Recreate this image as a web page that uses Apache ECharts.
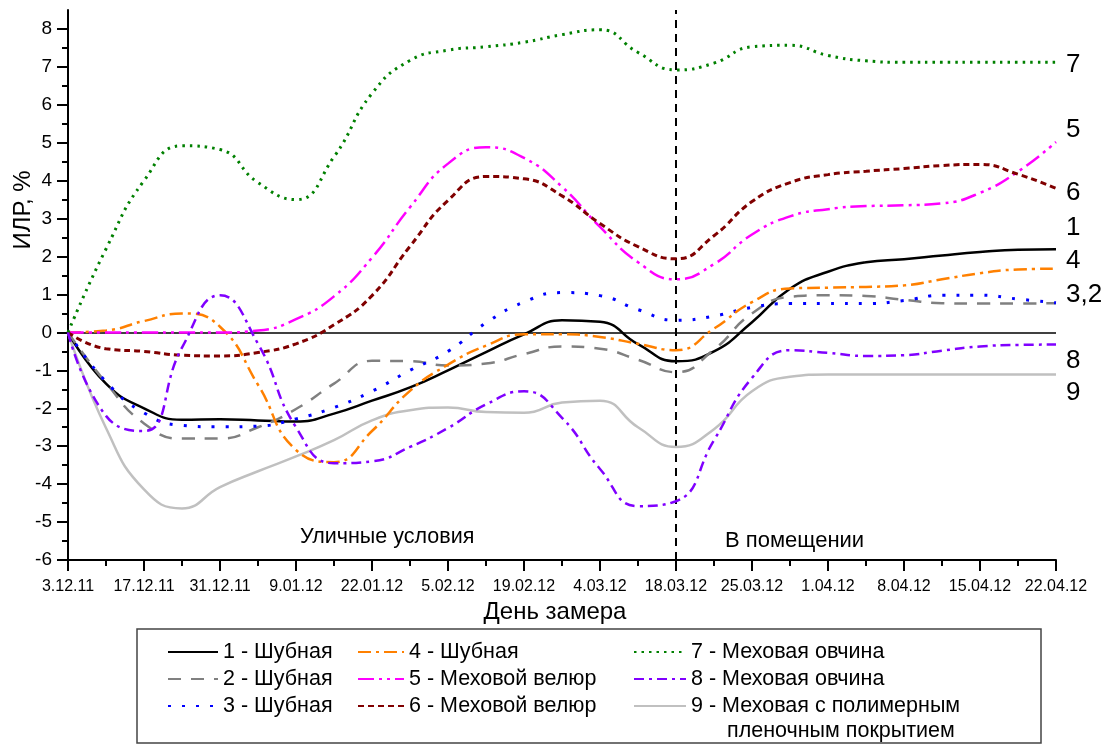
<!DOCTYPE html>
<html><head><meta charset="utf-8">
<script src="https://cdn.jsdelivr.net/npm/echarts@6/dist/echarts.min.js"></script>
<style>html,body{margin:0;padding:0;background:#fff}#c{width:1109px;height:745px}</style>
</head><body><div id="c"></div>
<script>
// ---- data ----
const dateLabels = ['3.12.11','17.12.11','31.12.11','9.01.12','22.01.12','5.02.12','19.02.12','4.03.12','18.03.12','25.03.12','1.04.12','8.04.12','15.04.12','22.04.12'];
const xPos = [0,0.5,1,1.5,2,2.5,3,3.5,4,4.5,5,5.5,6,6.5,7,7.5,8,8.5,9,9.5,10,10.5,11,11.5,12,12.5,13];
const seriesNames = ['1 - Шубная','2 - Шубная','3 - Шубная','4 - Шубная','5 - Меховой велюр','6 - Меховой велюр','7 - Меховая овчина','8 - Меховая овчина','9 - Меховая с полимерным'];
const endLabels = ['1','','3,2','4','5','6','7','8','9'];
const s1 = [0,-1.35,-2.0,-2.3,-2.29,-2.32,-2.35,-2.14,-1.8,-1.45,-1.0,-0.52,-0.05,0.32,0.28,-0.31,-0.76,-0.5,0.27,1.15,1.6,1.85,1.93,2.03,2.12,2.18,2.19];
const s2 = [0,-1.33,-2.4,-2.8,-2.8,-2.5,-2.02,-1.35,-0.75,-0.76,-0.87,-0.82,-0.57,-0.37,-0.43,-0.72,-1.05,-0.45,0.5,0.94,0.98,0.96,0.86,0.77,0.76,0.76,0.77];
const s3 = [0,-1.3,-2.12,-2.45,-2.49,-2.47,-2.28,-1.98,-1.55,-1.0,-0.5,0.25,0.8,1.05,0.97,0.6,0.32,0.43,0.66,0.76,0.76,0.76,0.84,0.98,0.98,0.88,0.78];
const s4 = [0,0.05,0.3,0.5,0.15,-1.38,-3.1,-3.42,-2.6,-1.54,-0.85,-0.35,-0.05,-0.05,-0.12,-0.3,-0.47,0.1,0.8,1.16,1.18,1.2,1.24,1.4,1.56,1.66,1.68];
const s5 = [0,0,0,0,0,0.05,0.35,0.95,1.97,3.3,4.45,4.88,4.6,3.84,2.78,1.85,1.4,1.8,2.58,3.06,3.25,3.33,3.35,3.4,3.68,4.24,5.02];
const s6 = [0,-0.43,-0.5,-0.6,-0.62,-0.53,-0.3,0.2,0.97,2.27,3.48,4.11,4.05,3.6,2.87,2.26,1.94,2.55,3.45,3.95,4.16,4.25,4.32,4.4,4.43,4.17,3.8];
const s7 = [0,2.2,4.0,4.92,4.82,3.95,3.5,4.63,6.3,7.17,7.44,7.53,7.65,7.85,7.98,7.38,6.92,7.1,7.53,7.57,7.3,7.16,7.12,7.12,7.12,7.12,7.12];
const s8 = [0,-2.2,-2.6,-0.4,0.98,-0.3,-2.5,-3.45,-3.4,-3.02,-2.52,-1.9,-1.55,-2.25,-3.6,-4.58,-4.45,-2.84,-1.2,-0.47,-0.54,-0.62,-0.6,-0.48,-0.37,-0.33,-0.32];
const s9 = [0,-2.52,-4.14,-4.64,-4.08,-3.66,-3.27,-2.84,-2.32,-2.05,-1.98,-2.1,-2.12,-1.85,-1.8,-2.5,-3.02,-2.55,-1.55,-1.17,-1.11,-1.11,-1.11,-1.11,-1.11,-1.11,-1.11];
const yTicks = [-6,-5,-4,-3,-2,-1,0,1,2,3,4,5,6,7,8];
const yMinor = [-5.5,-4.5,-3.5,-2.5,-1.5,-0.5,0.5,1.5,2.5,3.5,4.5,5.5,6.5,7.5];
const dividerX = 8;

// ---- styles ----
const FF = '"Liberation Sans", Arial, sans-serif';
const allVals = [s1,s2,s3,s4,s5,s6,s7,s8,s9];
const styles = [
  {color:'#000000', type:'solid', width:2.5, dy:-22},
  {color:'#808080', type:[13,10], width:2.5, dy:0},
  {color:'#0000ff', type:[3,11], width:3, dy:-8},
  {color:'#ff8000', type:[13,5,3,5], width:2.5, dy:-8},
  {color:'#ff00ff', type:[16,5,3,5,3,5], width:2.5, dy:-12},
  {color:'#800000', type:[6,4], width:3, dy:5},
  {color:'#008000', type:[2.5,5], width:3, dy:2},
  {color:'#8000ff', type:[10,5,3,5], width:2.5, dy:16},
  {color:'#c0c0c0', type:'solid', width:2.5, dy:18}
];
const pairs = v => xPos.map((x,i)=>[x, v[i]]);
const axisLS = {color:'#000', width:2};

const series = allVals.map((v,i)=>{
  const st = styles[i];
  const s = {
    type:'line', name:seriesNames[i], data:pairs(v), smooth:0.5,
    symbol:'none', showSymbol:false, legendIcon:'none', z: 10 - (i===8?5:0),
    lineStyle:{color:st.color, width:st.width, type:st.type},
    itemStyle:{color:st.color},
    endLabel:{show: endLabels[i] !== '', formatter: endLabels[i], fontSize:26, color:'#000', fontFamily:FF, distance:10, offset:[0, st.dy]}
  };
  if (i === 0) {
    s.markLine = {
      silent:true, symbol:['none','none'], label:{show:false},
      data:[
        {yAxis:0, lineStyle:{color:'#000', width:1.5, type:'solid'}},
        {xAxis:dividerX, lineStyle:{color:'#000', width:2, type:[8,6]}}
      ]
    };
  }
  return s;
});

const legendLeft = [167,357,633];
const legendW = [50,46,52];
const legends = [0,1,2].map(k=>({
  orient:'vertical', left:legendLeft[k], top:641, itemWidth:legendW[k], itemHeight:14, itemGap:5, padding:0,
  selectedMode:false, textStyle:{fontSize:21.5, fontFamily:FF, color:'#000'},
  itemStyle:{opacity:0},
  data: seriesNames.slice(3*k, 3*k+3)
}));

const chart = echarts.init(document.getElementById('c'), null, {renderer:'canvas'});
chart.setOption({
  animation:false,
  backgroundColor:'#fff',
  grid:{left:68, right:53, top:10, bottom:185, outerBoundsMode:'none'},
  legend: legends,
  xAxis:{
    type:'value', min:0, max:13, interval:1,
    axisLine:{show:true, onZero:false, lineStyle:axisLS},
    axisTick:{show:true, length:11, lineStyle:axisLS},
    minorTick:{show:true, splitNumber:2, length:6, lineStyle:axisLS},
    splitLine:{show:false}, minorSplitLine:{show:false},
    axisLabel:{formatter:v=>dateLabels[Math.round(v)], fontSize:16, color:'#000', margin:19, fontFamily:FF},
    name:'День замера', nameLocation:'middle', nameGap:37,
    nameTextStyle:{fontSize:24, color:'#000', fontFamily:FF, padding:[0,14,0,0]}
  },
  yAxis:[
    {type:'value', min:-6, max:8.5,
     axisLine:{show:true, onZero:false, lineStyle:axisLS},
     axisTick:{show:true, customValues:yTicks, length:11, lineStyle:axisLS},
     axisLabel:{customValues:yTicks, fontSize:19, color:'#000', margin:16, fontFamily:FF},
     splitLine:{show:false}},
    {type:'value', min:-6, max:8.5, position:'left',
     axisLine:{show:false},
     axisTick:{show:true, customValues:yMinor, length:6, lineStyle:axisLS},
     axisLabel:{show:false}, splitLine:{show:false}}
  ],
  graphic:[
    {type:'rect', silent:true, shape:{x:137, y:629, width:904, height:114}, style:{fill:'none', stroke:'#444', lineWidth:1.5}},
    {type:'text', silent:true, x:727, y:731, style:{text:'пленочным покрытием', fontSize:21.5, fontFamily:FF, fill:'#000', verticalAlign:'middle'}},
    {type:'text', silent:true, x:300, y:537, style:{text:'Уличные условия', fontSize:21.5, fontFamily:FF, fill:'#000', verticalAlign:'middle'}},
    {type:'text', silent:true, x:725, y:541, style:{text:'В помещении', fontSize:22, fontFamily:FF, fill:'#000', verticalAlign:'middle'}},
    {type:'text', silent:true, x:23, y:210, rotation:Math.PI/2, style:{text:'ИЛР, %', fontSize:24, fontFamily:FF, fill:'#000', align:'center', verticalAlign:'middle'}}
  ],
  series: series
});
</script>
</body></html>
